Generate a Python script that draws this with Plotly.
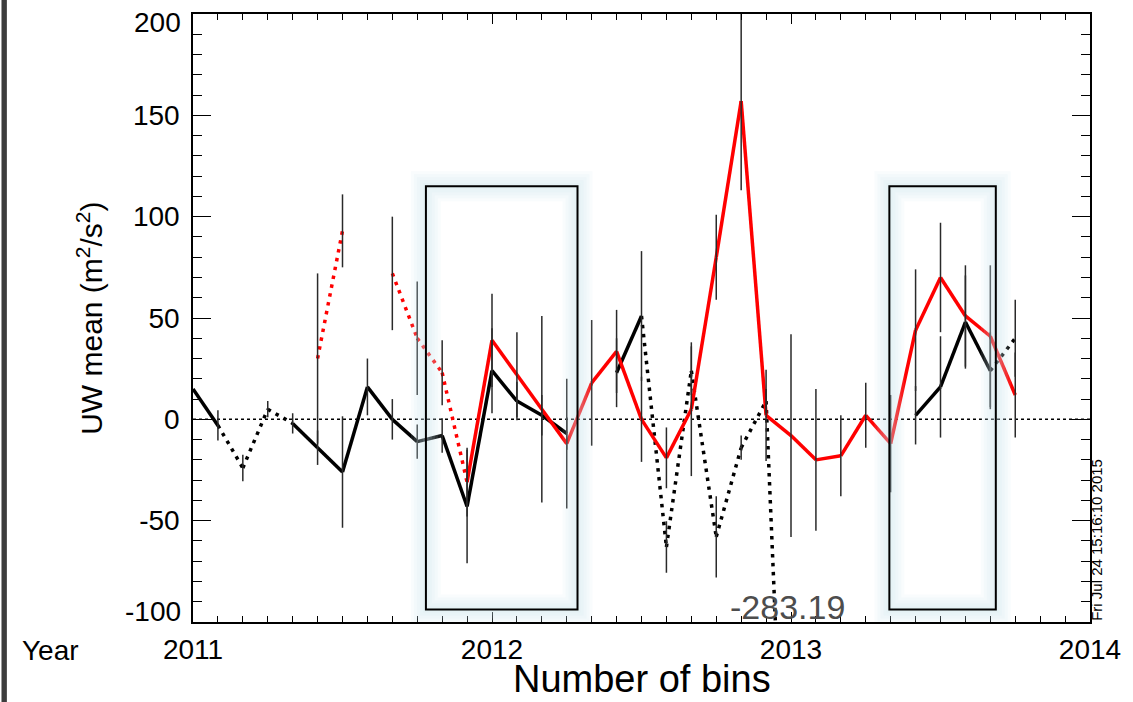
import plotly.graph_objects as go

# ---------------- data ----------------
months = ["2011-01", "2011-02", "2011-03", "2011-04", "2011-05", "2011-06",
          "2011-07", "2011-08", "2011-09", "2011-10", "2011-11", "2011-12",
          "2012-01", "2012-02", "2012-03", "2012-04", "2012-05", "2012-06",
          "2012-07", "2012-08", "2012-09", "2012-10", "2012-11", "2012-12",
          "2013-01", "2013-02", "2013-03", "2013-04", "2013-05", "2013-06",
          "2013-07", "2013-08", "2013-09", "2013-10"]

black_mean = [15, -3, -24, 5, -2, -14, -26, 16, 0, -11, -8, -43, 24, 9, 2, -7,
              None, 23, 51, -63, 24, -58, -14, 9, -283.19,
              None, None, None, None, 2, 16, 48, 24, 40]
black_err = [0, 7.5, 6.5, 4, 5, 8.5, 27.5, 14, 10, 8.5, 8.5, 28, 21, 9.5, 10, 8,
             0, 17, 32, 12.7, 12, 20, 6, 6, 0,
             0, 0, 0, 0, 14.4, 25, 23, 19, 19]
# points with few bins (segments touching them drawn dotted)
black_low = [0, 0, 1, 1, 0, 0, 0, 0, 0, 0, 0, 0, 0, 0, 0, 0,
             0, 0, 0, 1, 1, 1, 1, 1, 1,
             0, 0, 0, 0, 0, 0, 0, 0, 1]

red_mean = [None, None, None, None, None, 30, 93, None, 72, 40, 23, -31, 39, 22, 5, -12,
            18, 33.5, 0, -19, 5, 80, 157, 2, -8, -20, -18, 2, -12, 44, 70, 51, 41, 12]
red_err = [0, 0, 0, 0, 0, 42, 18, 0, 28, 28, 16, 17, 23, 21, 46, 32,
           31, 20.5, 21, 15, 33, 21, 44, 22.5, 50, 35, 20, 16, 24, 30, 27, 25, 35, 21]
red_low = [0, 0, 0, 0, 0, 1, 1, 0, 1, 1, 1, 0, 0, 0, 0, 0,
           0, 0, 0, 0, 0, 0, 0, 0, 0, 0, 0, 0, 0, 0, 0, 0, 0, 0]

year_ticks = [2011, 2012, 2013, 2014]
y_ticks = [-100, -50, 0, 50, 100, 150, 200]
y_ticktext = ["-100", "-50", "0", "50", "100", "150", "200"]
offscale_label = "-283.19"
timestamp = "Fri Jul 24 15:16:10 2015"

# highlighted periods (decimal years) and their vertical extent
boxes = [(2011.779, 2012.286), (2013.329, 2013.685)]
box_y = (-93.8, 115.0)

# --------------- helpers ---------------
xs = [int(s[:4]) + (int(s[5:7]) - 1) / 12.0 for s in months]


def split_segments(vals, low):
    solid_x, solid_y, dot_x, dot_y = [], [], [], []
    for i in range(len(vals) - 1):
        a, b = vals[i], vals[i + 1]
        if a is None or b is None:
            continue
        seg_x = [xs[i], xs[i + 1], None]
        seg_y = [a, b, None]
        if low[i] or low[i + 1]:
            dot_x += seg_x
            dot_y += seg_y
        else:
            solid_x += seg_x
            solid_y += seg_y
    return solid_x, solid_y, dot_x, dot_y


fig = go.Figure()

LW = 3.5
DOT = "3.5px,5.5px"

# zero line
fig.add_trace(go.Scatter(x=[2011, 2014], y=[0, 0], mode="lines",
                         line=dict(color="black", width=1.5, dash="3px,3px"),
                         hoverinfo="skip", showlegend=False))

for vals, low, col in [(black_mean, black_low, "black"), (red_mean, red_low, "#ff0000")]:
    sx, sy, dx, dy = split_segments(vals, low)
    fig.add_trace(go.Scatter(x=sx, y=sy, mode="lines", connectgaps=False,
                             line=dict(color=col, width=LW), showlegend=False))
    fig.add_trace(go.Scatter(x=dx, y=dy, mode="lines", connectgaps=False,
                             line=dict(color=col, width=LW, dash=DOT), showlegend=False))

# error bars
for vals, errs in [(black_mean, black_err), (red_mean, red_err)]:
    fig.add_trace(go.Scatter(
        x=xs, y=vals, mode="markers",
        marker=dict(size=1, color="rgba(0,0,0,0)"),
        error_y=dict(type="data", array=errs, visible=True, width=0,
                     thickness=1.5, color="#2a2a2a"),
        showlegend=False, hoverinfo="skip"))

shapes = []
# soft glow around highlight boxes
for (x0, x1) in boxes:
    for w in (30, 24, 18, 12, 6):
        shapes.append(dict(type="rect", xref="x", yref="y", x0=x0, x1=x1,
                           y0=box_y[0], y1=box_y[1], layer="above",
                           line=dict(color="rgba(200,228,240,0.11)", width=w)))
    shapes.append(dict(type="rect", xref="x", yref="y", x0=x0, x1=x1,
                       y0=box_y[0], y1=box_y[1], layer="above",
                       line=dict(color="black", width=2)))
# dark strip at left edge of the window
shapes.append(dict(type="rect", xref="paper", yref="paper",
                   x0=-0.2135, x1=-0.2075, y0=-0.14, y1=1.03,
                   fillcolor="#3c3c3c", line=dict(width=0), layer="above"))

annotations = [
    dict(text="UW mean (m<sup>2</sup>/s<sup>2</sup>)", textangle=-90,
         xref="paper", yref="paper", x=-0.115, y=0.50,
         xanchor="center", yanchor="middle", showarrow=False,
         font=dict(size=30, color="black")),
    dict(text="Year", xref="paper", yref="paper", x=-0.159, y=-0.047,
         xanchor="center", yanchor="middle", showarrow=False,
         font=dict(size=28, color="black")),
    dict(text="Number of bins", xref="paper", yref="paper", x=0.5, y=-0.1311,
         xanchor="center", yanchor="bottom", showarrow=False,
         font=dict(size=38, color="black")),
    dict(text=timestamp, textangle=-90, xref="paper", yref="paper",
         x=1.0077, y=0.135, xanchor="center", yanchor="middle", showarrow=False,
         font=dict(size=15, color="black")),
    dict(text=offscale_label, xref="x", yref="y", x=xs[24], y=-92.5,
         xanchor="center", yanchor="middle", xshift=-4, showarrow=False,
         font=dict(size=34, color="#4d4d4d")),
    # end labels of the y axis, shifted inward to stay inside the frame
    dict(text=y_ticktext[-1], xref="paper", yref="paper", x=-0.011, y=0.9852,
         xanchor="right", yanchor="middle", showarrow=False,
         font=dict(size=28, color="black")),
    dict(text=y_ticktext[0], xref="paper", yref="paper", x=-0.011, y=0.0169,
         xanchor="right", yanchor="middle", showarrow=False,
         font=dict(size=28, color="black")),
]

fig.update_layout(
    width=1133, height=702,
    margin=dict(l=193, r=34, t=12, b=80),
    paper_bgcolor="white", plot_bgcolor="white",
    font=dict(family="Liberation Sans, Arial, sans-serif", color="black"),
    shapes=shapes, annotations=annotations, showlegend=False,
    xaxis=dict(range=[2011, 2014], tickvals=year_ticks,
               ticktext=[str(v) for v in year_ticks],
               ticks="inside", ticklen=10, tickwidth=1.2, tickcolor="black",
               showline=True, linecolor="black", linewidth=1.5, mirror="ticks",
               showgrid=False, zeroline=False, tickfont=dict(size=28),
               ticklabelstandoff=2, ticklabeloverflow="allow",
               minor=dict(tick0=2011, dtick=1 / 12, ticks="inside", ticklen=6,
                          tickcolor="black", tickwidth=1.2, showgrid=False)),
    yaxis=dict(range=[-100, 200], tickvals=y_ticks[1:-1],
               ticktext=y_ticktext[1:-1],
               ticks="inside", ticklen=18, tickwidth=1.2, tickcolor="black",
               showline=True, linecolor="black", linewidth=1.5, mirror="ticks",
               showgrid=False, zeroline=False, tickfont=dict(size=28),
               ticklabelstandoff=6,
               minor=dict(tick0=0, dtick=10, ticks="inside", ticklen=9,
                          tickcolor="black", tickwidth=1.2, showgrid=False)),
)

fig.write_html("out.html")
